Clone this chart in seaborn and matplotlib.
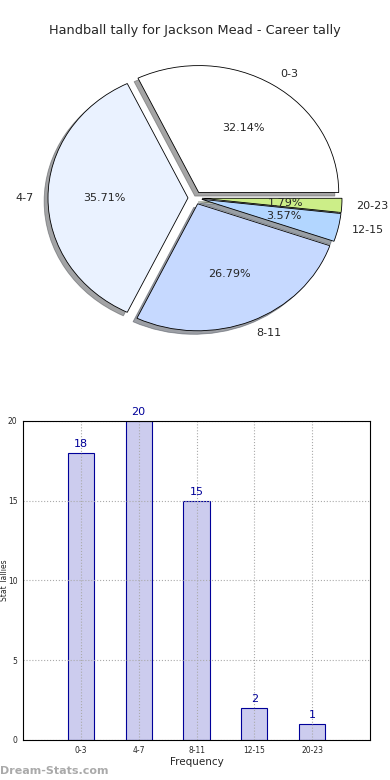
#Handball tally - pie + bar chart of career tallies
import numpy as np
import pandas as pd
import matplotlib
matplotlib.use("Agg")
import matplotlib.pyplot as plt
import seaborn as sns

#data
bins = ["0-3", "4-7", "8-11", "12-15", "20-23"]
tallies = [18, 20, 15, 2, 1]
pie_colors = ["#ffffff", "#eaf2ff", "#c6d9ff", "#b2d6ff", "#ccee88"]

sns.set_style("white")
plt.rcParams['font.family'] = ['DejaVu Sans']

fig = plt.figure(figsize=(3.9, 7.8), dpi=100)
fig.text(0.5, 0.9615, "Handball tally for Jackson Mead - Career tally",
         ha="center", va="center", fontsize=9.3)

#pie - slightly squashed like the original
ax1 = fig.add_axes([0.0915, 0.561, 0.817, 0.3705])
wedges, texts, autotexts = ax1.pie(tallies, labels=bins, colors=pie_colors,
                                   explode=[0.05] * len(tallies), shadow=True,
                                   startangle=0, autopct="%.2f%%",
                                   wedgeprops=dict(edgecolor="black", linewidth=0.6),
                                   textprops=dict(fontsize=8))
ax1.set_aspect("auto")
ax1.set_xlim(-1.138, 1.138)
ax1.set_ylim(-1.138, 1.138)
ax1.axis("off")

#bar
df = pd.DataFrame({"bin": bins, "tally": tallies})
ax2 = fig.add_axes([0.059, 0.0513, 0.8897, 0.409])
sns.barplot(data=df, x="bin", y="tally", ax=ax2, width=0.45,
            color="#ccccee", saturation=1, edgecolor="#000099", linewidth=0.8)
ax2.set_xlim(-1, 5)
ax2.set_ylim(0, 20)
ax2.set_yticks([0, 5, 10, 15, 20])
ax2.grid(True, linestyle=":", color="#aaaaaa", linewidth=0.8)
ax2.set_axisbelow(False)
for i, v in enumerate(tallies):
    ax2.text(i, v + 0.25, str(v), ha="center", va="bottom", color="#000099", fontsize=8)
ax2.tick_params(labelsize=5.5, length=2, pad=2)
ax2.set_xlabel("Frequency", fontsize=7.5, labelpad=2)
ax2.set_ylabel("Stat Tallies", fontsize=5.5)
ax2.yaxis.set_label_coords(-0.040, 0.5)
for s in ax2.spines.values():
    s.set_color("black")
    s.set_linewidth(0.8)
    s.set_zorder(5)

fig.text(0.0, 0.0115, "Dream-Stats.com", color="#aaaaaa", fontsize=8,
         ha="left", va="center", fontweight="bold")

fig.savefig("out.png", dpi=100)
